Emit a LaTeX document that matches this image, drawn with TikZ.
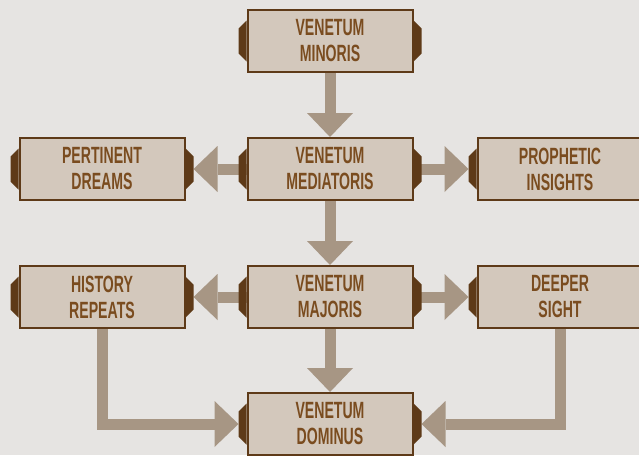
\documentclass[tikz,border=0pt]{standalone}
\usepackage{fontspec}
\usetikzlibrary{arrows.meta}
\newfontfamily\signfont[FakeStretch=0.6]{Liberation Sans}
\definecolor{signedge}{HTML}{5E3A18}
\definecolor{signfill}{HTML}{D3C8BC}
\definecolor{signtext}{HTML}{7A4C1F}
\definecolor{flowcol}{HTML}{A79684}
\definecolor{stone}{HTML}{E6E4E2}
\tikzset{sign/.style = {draw = signedge, line width = 2pt, fill = signfill, minimum width = 165pt, minimum height = 62pt, inner sep = 0pt, align = center, text = signtext, font = \signfont\bfseries\fontsize{23.5}{26}\selectfont}}
\tikzset{flow/.style = {draw = flowcol, line width = 11pt, -{Triangle[width = 46pt, length = 24pt, line width = 0pt]}}}

\begin{document}
\begin{tikzpicture}[x = 1pt, y = -1pt]
\useasboundingbox (0,0) rectangle (639,455);
\clip (0,0) rectangle (639,455);
\fill[stone] (0,0) rectangle (639,455);
\node[sign] (minoris) at (330,41) {VENETUM\\MINORIS};
\node[sign] (mediatoris) at (330,169) {VENETUM\\MEDIATORIS};
\node[sign] (majoris) at (330,297) {VENETUM\\MAJORIS};
\node[sign] (dominus) at (330,424) {VENETUM\\DOMINUS};
\node[sign] (pertinent) at (102,169) {PERTINENT\\DREAMS};
\node[sign] (prophetic) at (560,169) {PROPHETIC\\INSIGHTS};
\node[sign] (history) at (102,297) {HISTORY\\REPEATS};
\node[sign] (deeper) at (560,297) {DEEPER\\SIGHT};
\draw[flow] (minoris) -- (mediatoris);
\draw[flow] (mediatoris) -- (majoris);
\draw[flow] (majoris) -- (dominus);
\draw[flow, shorten > = 8pt] (mediatoris) -- (pertinent);
\draw[flow, shorten > = 8pt] (mediatoris) -- (prophetic);
\draw[flow, shorten > = 8pt] (majoris) -- (history);
\draw[flow, shorten > = 8pt] (majoris) -- (deeper);
\draw[flow, shorten > = 8pt] (history) |- (dominus);
\draw[flow, shorten > = 8pt] (deeper) |- (dominus);
\foreach \n in {minoris, mediatoris, majoris, dominus, pertinent, prophetic, history, deeper} {
  \fill[signedge] (\n.west) ++(0,-20.5) -- ++(-8,8) -- ++(0,25) -- ++(8,8) -- cycle;
  \fill[signedge] (\n.east) ++(0,-20.5) -- ++(8,8) -- ++(0,25) -- ++(-8,8) -- cycle;
}
\end{tikzpicture}
\end{document}
